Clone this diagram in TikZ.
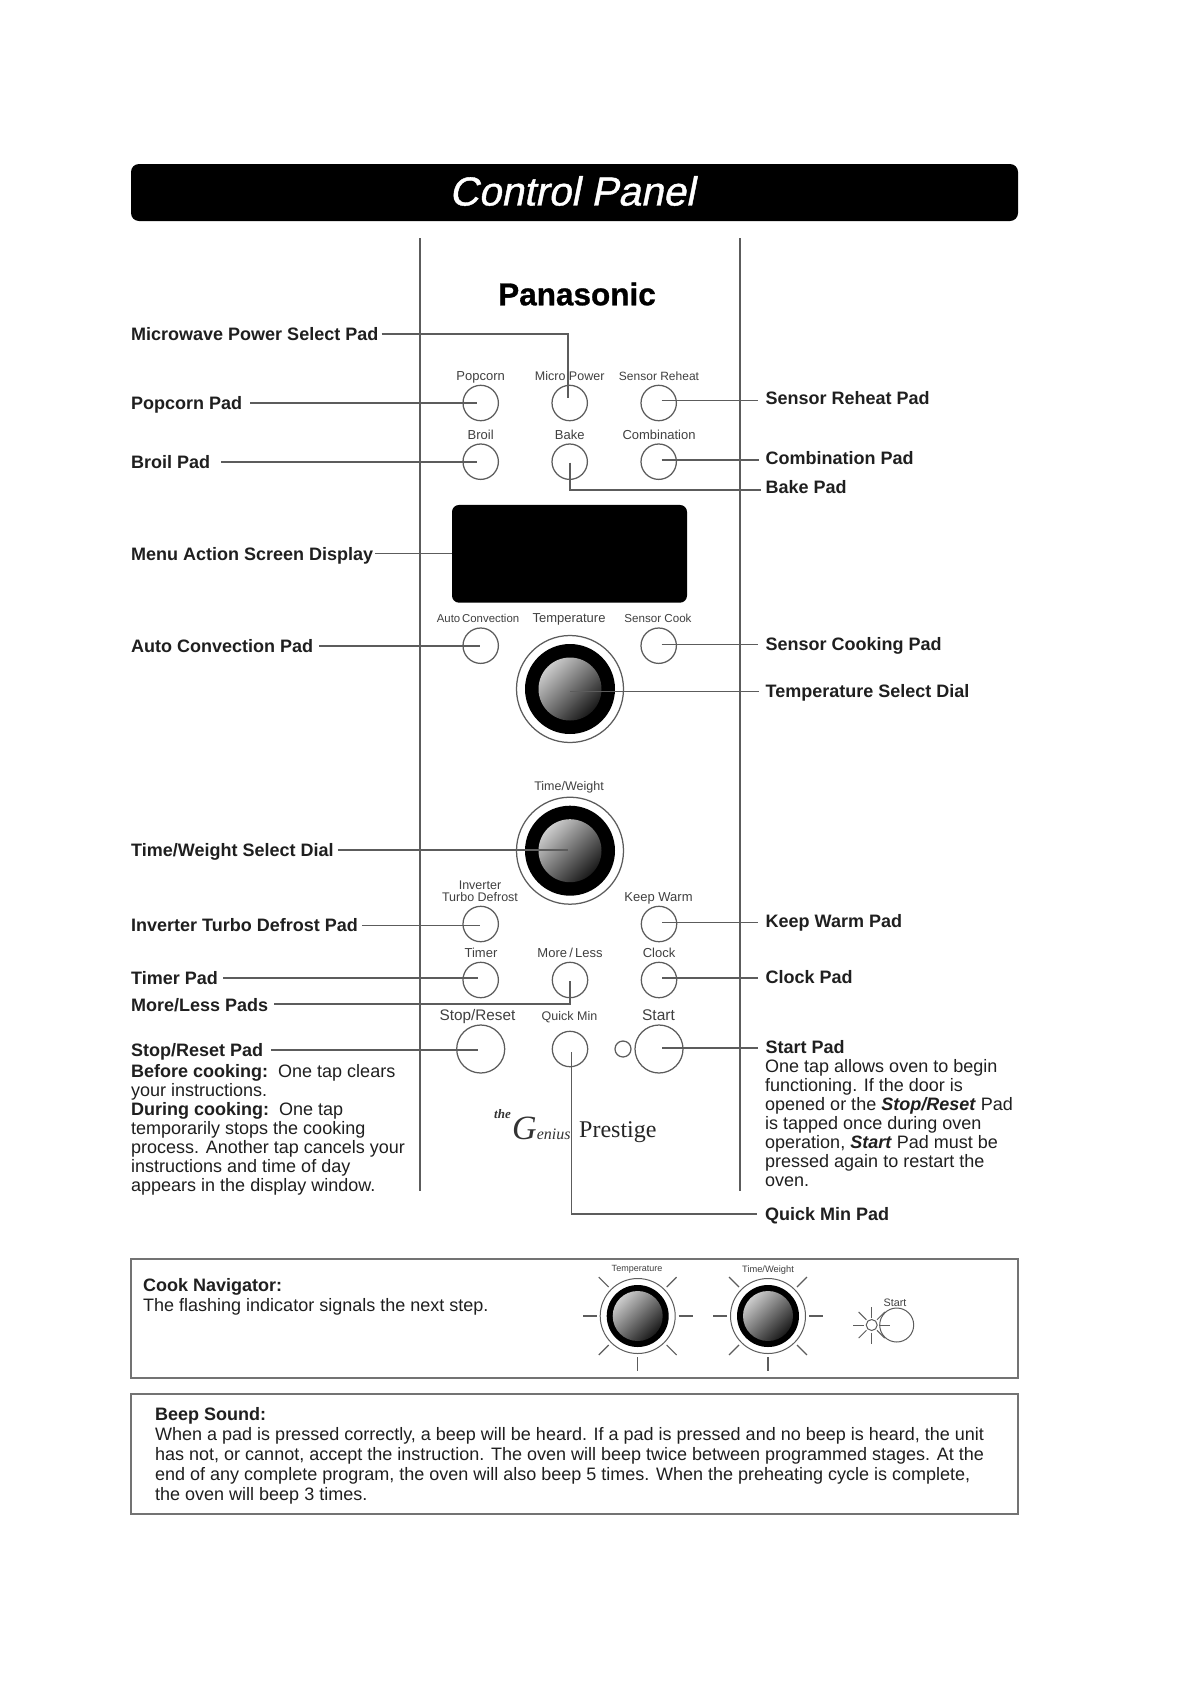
\documentclass[tikz,border=0pt]{standalone}
\usepackage{fontspec}
\setmainfont{Liberation Sans}
\newfontfamily\titlefont[FakeBold=1,FakeSlant=0.2]{Liberation Sans}
\newfontfamily\brandfont[BoldFeatures={FakeBold=0.9}]{Liberation Sans}
\newfontfamily\logofont{Liberation Serif}
\definecolor{ink}{gray}{0.12}
\definecolor{wire}{gray}{0.36}
\tikzset{
  x=1pt,y=-1pt,
  wirep/.style={draw=wire,line width=1.25pt},
  leader/.style={wirep},
  pad/.style={circle,wirep,minimum size=35.4pt,inner sep=0pt},
  bigpad/.style={circle,wirep,minimum size=48pt,inner sep=0pt},
  ringA/.style={circle,wirep,fill=white,minimum size=107pt,inner sep=0pt},
  blackA/.style={circle,fill=black,minimum size=90pt,inner sep=0pt},
  knobA/.style={circle,minimum size=63pt,inner sep=0pt,shading=axis,top color=black!20,middle color=black!52,bottom color=black!90,shading angle=45},
  ringB/.style={circle,wirep,line width=1pt,fill=white,minimum size=75pt,inner sep=0pt},
  blackB/.style={circle,fill=black,minimum size=62pt,inner sep=0pt},
  knobB/.style={circle,minimum size=50pt,inner sep=0pt,shading=axis,top color=black!20,middle color=black!52,bottom color=black!90,shading angle=45},
  lbl/.style={font=\fontsize{18}{19}\selectfont\bfseries,text=ink,inner sep=0pt,text height=12.5pt,text depth=0pt},
  lblL/.style={lbl,anchor=west},
  padcapM/.style={font=\fontsize{13}{12.5}\selectfont,text=black!75,inner sep=0pt,anchor=center},
  padcap/.style={padcapM,text height=9.3pt,text depth=0pt},
  para/.style={font=\fontsize{18}{19.1}\selectfont,text=ink,inner sep=0pt,align=left,anchor=north west},
  framebox/.style={draw=black!55,line width=1.3pt,fill=white},
}
\begin{document}
\begin{tikzpicture}
\useasboundingbox (0,0) rectangle (1190,1684);
\fill[white] (0,0) rectangle (1190,1684);

% banner
\node[fill=black,rounded corners=8pt,minimum width=887pt,minimum height=57pt,inner sep=0pt] (banner) at (574.5,192.5) {};
\node[text=white,inner sep=0pt,font=\fontsize{40.5}{42}\selectfont\titlefont] (title) at (572,191) {Control Panel};

% panel edges
\draw[wirep] (420,238) -- (420,1191);
\draw[wirep] (740,238) -- (740,1191);

\node[inner sep=0pt,font=\fontsize{31.5}{31.5}\selectfont\brandfont\bfseries] (brand) at (577,294) {Panasonic};

% pads
\node[pad] (pPop) at (480.7,403) {};
\node[pad] (pMic) at (569.7,403) {};
\node[pad] (pReh) at (658.7,403) {};
\node[pad] (pBro) at (480.7,461.7) {};
\node[pad] (pBak) at (569.7,461.7) {};
\node[pad] (pCom) at (658.7,461.7) {};
\node[fill=black,rounded corners=7pt,minimum width=235pt,minimum height=97.7pt,inner sep=0pt] (disp) at (569.5,553.8) {};
\node[pad] (pAut) at (480.7,645.7) {};
\node[pad] (pSen) at (658.7,645.7) {};
\node[ringA] (tRing) at (570,689) {};
\node[blackA] (tBlack) at (tRing.center) {};
\node[knobA] (tKnob) at (tRing.center) {};
\node[ringA] (wRing) at (570,850.7) {};
\node[blackA] (wBlack) at (wRing.center) {};
\node[knobA] (wKnob) at (wRing.center) {};
\node[pad] (pInv) at (480.7,924) {};
\node[pad] (pKee) at (659,924) {};
\node[pad] (pTim) at (480.7,980) {};
\node[pad] (pMor) at (570,980) {};
\node[pad] (pClo) at (659,980) {};
\node[bigpad] (pSto) at (480.7,1049) {};
\node[pad] (pQui) at (570,1049) {};
\node[bigpad] (pSta) at (659,1049) {};
\node[circle,wirep,minimum size=16pt,inner sep=0pt] (pDot) at (623,1049) {};

% captions
\node[padcap] (cPop) at (480.7,375.7) {Popcorn};
\node[padcap,font=\fontsize{12.5}{12.5}\selectfont] (cMic) at (569.7,375.7) {Micro Power};
\node[padcap,font=\fontsize{12}{12}\selectfont] (cReh) at (659,375.7) {Sensor Reheat};
\node[padcap] (cBro) at (480.7,435) {Broil};
\node[padcap] (cBak) at (569.7,435) {Bake};
\node[padcap] (cCom) at (659,435) {Combination};
\node[padcap,font=\fontsize{11.4}{12}\selectfont] (cAut) at (478,618) {Auto\,Convection};
\node[padcap] (cTem) at (569,618) {Temperature};
\node[padcap,font=\fontsize{11.6}{12}\selectfont] (cSen) at (658,618) {Sensor Cook};
\node[padcap,font=\fontsize{12.5}{12.5}\selectfont] (cTW) at (569,786) {Time/Weight};
\node[padcapM,align=center,font=\fontsize{12.5}{11.7}\selectfont] (cInv) at (480,891) {Inverter\\Turbo Defrost};
\node[padcap] (cKee) at (658.5,896.7) {Keep Warm};
\node[padcap] (cTim) at (481,952.7) {Timer};
\node[padcap] (cMor) at (570,952.7) {More\,/\,Less};
\node[padcap] (cClo) at (659,952.7) {Clock};
\node[padcap,text height=11pt,font=\fontsize{15.3}{15}\selectfont] (cSto) at (477.5,1015) {Stop/Reset};
\node[padcap,font=\fontsize{12.5}{12.5}\selectfont] (cQui) at (569.5,1016) {Quick Min};
\node[padcap,text height=11pt,font=\fontsize{15.5}{15}\selectfont] (cSta) at (658.5,1015) {Start};

% logo
\node[inner sep=0pt,text=black!80,anchor=west,font=\fontsize{13}{13}\selectfont\logofont\bfseries\itshape] (logoA) at (494,1114) {the};
\node[inner sep=0pt,text=black!80,anchor=base west,font=\logofont\itshape] (logoB) at (512,1139) {{\fontsize{34}{34}\selectfont G}{\fontsize{16}{17}\selectfont enius}};
\node[inner sep=0pt,text=black!85,font=\fontsize{24}{24}\selectfont\logofont,anchor=west] (logoC) at (579,1132) {Prestige};

% left labels
\node[lblL] (lMic) at (131,334) {Microwave Power Select Pad};
\node[lblL] (lPop) at (131,403) {Popcorn Pad};
\node[lblL] (lBro) at (131,462) {Broil Pad};
\node[lblL] (lMen) at (131,553.8) {Menu Action Screen Display};
\node[lblL] (lAut) at (131,646) {Auto Convection Pad};
\node[lblL] (lTim) at (131,850) {Time/Weight Select Dial};
\node[lblL] (lInv) at (131,925.7) {Inverter Turbo Defrost Pad};
\node[lblL] (lTmr) at (131,978) {Timer Pad};
\node[lblL] (lMor) at (131,1005) {More/Less Pads};
\node[lblL] (lSto) at (131,1050) {Stop/Reset Pad};
\node[para] (tSto) at (131,1064) {\textbf{Before cooking:}\ \ One tap clears\\your instructions.\\\textbf{During cooking:}\ \ One tap\\temporarily stops the cooking\\process. Another tap cancels your\\instructions and time of day\\appears in the display window.};

% right labels
\node[lblL] (rReh) at (765.5,398) {Sensor Reheat Pad};
\node[lblL] (rCom) at (765.5,458) {Combination Pad};
\node[lblL] (rBak) at (765.5,487) {Bake Pad};
\node[lblL] (rSen) at (765.5,644.3) {Sensor Cooking Pad};
\node[lblL] (rTem) at (765.5,691) {Temperature Select Dial};
\node[lblL] (rKee) at (765.5,921) {Keep Warm Pad};
\node[lblL] (rClo) at (765.5,977) {Clock Pad};
\node[lblL] (rSta) at (765.5,1047) {Start Pad};
\node[para] (tSta) at (765,1059) {One tap allows oven to begin\\functioning. If the door is\\opened or the \textbf{\itshape Stop/Reset} Pad\\is tapped once during oven\\operation, \textbf{\itshape Start} Pad must be\\pressed again to restart the\\oven.};
\node[lblL] (rQui) at (765,1214) {Quick Min Pad};

% leader ends
\coordinate (eMic) at (568,398);
\coordinate (ePop) at (476.7,403);
\coordinate (eBro) at (476.7,462);
\coordinate (eAut) at (480,646);
\coordinate (eTWd) at (568,850);
\coordinate (eInv) at (480,925.7);
\coordinate (eTmr) at (478,978);
\coordinate (eMor) at (570,980.7);
\coordinate (eSto) at (478,1050);
\coordinate (eReh) at (661.7,400.3);
\coordinate (eCom) at (661.7,460);
\coordinate (eBak) at (570,462.7);
\coordinate (eSen) at (661.7,644.3);
\coordinate (eTem) at (570,691.7);
\coordinate (eKee) at (662,922.7);
\coordinate (eClo) at (662,978);
\coordinate (eSta) at (662,1048);
\coordinate (eQui) at (571.7,1052);

% leaders, left side
\draw[leader] ([xshift=3pt]lMic.east) -| (eMic);
\draw[leader] ([xshift=8pt]lPop.east) -- (lPop.east -| ePop);
\draw[leader] ([xshift=11pt]lBro.east) -- (lBro.east -| eBro);
\draw[leader] ([xshift=2pt]lMen.east) -- (disp.west);
\draw[leader] ([xshift=6pt]lAut.east) -- (lAut.east -| eAut);
\draw[leader] ([xshift=4pt]lTim.east) -- (lTim.east -| eTWd);
\draw[leader] ([xshift=4pt]lInv.east) -- (lInv.east -| eInv);
\draw[leader] ([xshift=5pt]lTmr.east) -- (lTmr.east -| eTmr);
\draw[leader] ([xshift=6pt,yshift=1pt]lMor.east) -| (eMor);
\draw[leader] ([xshift=8pt]lSto.east) -- (lSto.east -| eSto);
% leaders, right side
\draw[leader] (eReh) -- ([xshift=-8pt]eReh -| rReh.west);
\draw[leader] (eCom) -- ([xshift=-7pt]eCom -| rCom.west);
\draw[leader] (eBak) |- ([xshift=-5pt,yshift=-3pt]rBak.west);
\draw[leader] (eSen) -- ([xshift=-8pt]eSen -| rSen.west);
\draw[leader] (eTem) -- ([xshift=-7pt]eTem -| rTem.west);
\draw[leader] (eKee) -- ([xshift=-8pt]eKee -| rKee.west);
\draw[leader] (eClo) -- ([xshift=-8pt]eClo -| rClo.west);
\draw[leader] (eSta) -- ([xshift=-8pt]eSta -| rSta.west);
\draw[leader] (eQui) |- ([xshift=-8pt]rQui.west);

% cook navigator
\node[framebox,minimum width=887pt,minimum height=119pt,inner sep=0pt] (navBox) at (574.5,1318.5) {};
\node[lblL] (navHead) at (143,1285.5) {Cook Navigator:};
\node[para,anchor=west] (navText) at (143,1306.5) {The flashing indicator signals the next step.};
\node[ringB] (mTr) at (637.7,1316) {};
\node[blackB] (mTb) at (mTr.center) {};
\node[knobB] (mTk) at (mTr.center) {};
\node[ringB] (mWr) at (768,1316) {};
\node[blackB] (mWb) at (mWr.center) {};
\node[knobB] (mWk) at (mWr.center) {};
\foreach \a in {0,45,135,180,225,270,315}{
  \draw[wirep,line width=1.1pt] ([shift={(\a:41pt)}]mTr.center) -- ([shift={(\a:55pt)}]mTr.center);
  \draw[wirep,line width=1.1pt] ([shift={(\a:41pt)}]mWr.center) -- ([shift={(\a:55pt)}]mWr.center);
}
\node[padcap,text height=6.5pt,font=\fontsize{9}{9}\selectfont] (mTc) at (637,1268) {Temperature};
\node[padcap,text height=6.5pt,font=\fontsize{9.3}{9}\selectfont] (mWc) at (768,1269) {Time/Weight};
\node[circle,wirep,line width=1pt,minimum size=34pt,inner sep=0pt] (mSt) at (896.7,1325) {};
\node[circle,wirep,line width=1pt,minimum size=11pt,inner sep=0pt] (mDot) at (871.7,1325) {};
\foreach \a in {0,45,90,135,180,225,270,315}{
  \draw[wirep,line width=1pt] ([shift={(\a:7.5pt)}]mDot.center) -- ([shift={(\a:18.5pt)}]mDot.center);
}
\node[padcap,text height=8pt,font=\fontsize{10.8}{11}\selectfont] (mSc) at (895,1302) {Start};

% beep
\node[framebox,minimum width=887pt,minimum height=120pt,inner sep=0pt] (beepBox) at (574.5,1454) {};
\node[lblL] (beepHead) at (155,1414.5) {Beep Sound:};
\node[para,font=\fontsize{18}{19.8}\selectfont] (beepText) at (155,1427.5) {When a pad is pressed correctly, a beep will be heard. If a pad is pressed and no beep is heard, the unit\\has not, or cannot, accept the instruction. The oven will beep twice between programmed stages. At the\\end of any complete program, the oven will also beep 5 times. When the preheating cycle is complete,\\the oven will beep 3 times.};
\end{tikzpicture}
\end{document}
